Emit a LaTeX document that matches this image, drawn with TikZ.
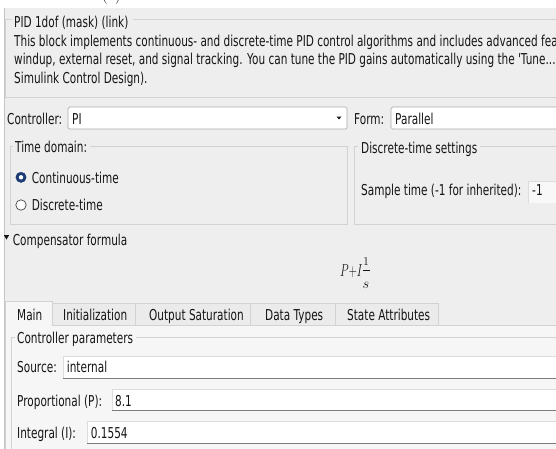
\documentclass[tikz,border=0pt]{standalone}
\usepackage{fontspec}
\usepackage{amsmath}
\newfontfamily\uifont[FakeStretch=0.70]{DejaVu Sans}
\definecolor{dlgbg}{HTML}{EEEEEE}
\definecolor{panelbg}{HTML}{F6F6F6}
\definecolor{tabbg}{HTML}{EBEBEB}
\definecolor{frameln}{HTML}{D2D2D2}
\definecolor{dlgedge}{HTML}{C4C4C4}
\definecolor{uitext}{HTML}{151515}
\definecolor{comboln}{HTML}{ABABAB}
\definecolor{fieldtopln}{HTML}{DCDCDC}
\definecolor{fieldbotln}{HTML}{7C7C7C}
\definecolor{radioblue}{HTML}{1C3A74}
\begin{document}
\begin{tikzpicture}[x=1pt,y=-1pt,
  lbl/.style={font=\uifont\fontsize{15}{17}\selectfont, text=uitext, inner sep=0pt, anchor=base west},
  mathlbl/.style={text=uitext, inner sep=0pt, anchor=base},
  frameline/.style={draw=frameln, line width=0.8pt},
  combo/.style={fill=white, draw=comboln, line width=0.7pt, rounded corners=1.5pt},
  tabshape/.style={fill=tabbg, draw=frameln, line width=0.7pt},
  fieldfill/.style={fill=white},
  fieldtop/.style={draw=fieldtopln, line width=0.7pt},
  fieldbot/.style={draw=fieldbotln, line width=1pt},
]
\useasboundingbox (0,0) rectangle (556,448);
\clip (0,0) rectangle (556,448);
\fill[white] (0,0) rectangle (556,448);
% caption of the figure above, cut by the page edge
\node[font=\fontsize{16}{16}\selectfont, inner sep=0pt, anchor=base west] (cap) at (102,0) {(a)};
% dialog body
\fill[dlgbg] (4.5,8) rectangle (560,450);
\draw[dlgedge, line width=0.8pt] (4.5,8) -- (4.5,450);

% ---- description group
\node[lbl] (title) at (14,27) {PID 1dof (mask) (link)};
\draw[frameline] (12,19) -- (5.5,19) -- (5.5,97) -- (560,97);
\draw[frameline] ([xshift=4pt]title.east |- 0,19) -- (560,19);
\node[lbl] (d1) at (14,46) {This block implements continuous- and discrete-time PID control algorithms and includes advanced fea};
\node[lbl] (d2) at (14,64.5) {windup, external reset, and signal tracking. You can tune the PID gains automatically using the 'Tune...};
\node[lbl] (d3) at (14,83) {Simulink Control Design).};

% ---- controller / form
\node[lbl] (ctrl) at (7,124.5) {Controller:};
\draw[combo] (68,107) rectangle (347,129);
\node[lbl] (ctrlval) at (72,124.5) {PI};
\fill[uitext] (336.5,116.5) -- (341.5,116.5) -- (339,119.5) -- cycle;
\node[lbl] (form) at (354,124.5) {Form:};
\draw[combo] (391,107) rectangle (565,129);
\node[lbl] (formval) at (395,124.5) {Parallel};

% ---- time domain group
\node[lbl] (tdom) at (15,152) {Time domain:};
\draw[frameline] (13,146) -- (10,146) -- (10,224) -- (347,224) -- (347,146) -- ([xshift=3pt]tdom.east |- 0,146);
\draw[draw=radioblue, fill=radioblue] (21,177.3) circle (5.2);
\fill[white] (21,177.3) circle (2.2);
\node[lbl] (cont) at (31.7,183) {Continuous-time};
\draw[draw=uitext!80, fill=white, line width=0.7pt] (21,205) circle (5.2);
\node[lbl] (disc) at (31.7,210.5) {Discrete-time};

% ---- discrete-time settings group
\node[lbl] (dset) at (361,153) {Discrete-time settings};
\draw[frameline] (358,146) -- (354,146) -- (354,224) -- (565,224);
\draw[frameline] ([xshift=3pt]dset.east |- 0,146) -- (565,146);
\fill[white!60!dlgbg] (528,181) rectangle (565,203);
\draw[fieldtop] (528,203) -- (528,181) -- (565,181);
\node[lbl] (stime) at (361,195.5) {Sample time (-1 for inherited):};
\node[lbl] (stval) at (532,195.5) {-1};

% ---- compensator formula
\fill[uitext] (3.8,235) -- (9.2,235) -- (6.5,239.5) -- cycle;
\node[lbl] (comp) at (12.7,245) {Compensator formula};
\node[anchor=base west, inner sep=0pt, text=uitext] (pi) at (340,276.7) {\scalebox{0.65}[1]{\fontsize{17}{17}\selectfont$P{+}I$}};
\node[mathlbl, font=\fontsize{12}{12}\selectfont] (num) at (366,265) {$1$};
\draw[uitext, line width=0.6pt] (363,270) -- (369.5,270);
\node[mathlbl, font=\fontsize{15}{15}\selectfont] (den) at (366,288.3) {$s$};

% ---- tabs
\fill[panelbg] (5.5,325) rectangle (560,450);
\draw[tabshape] (52,303) rectangle (135,325);
\draw[tabshape] (135,303) rectangle (250,325);
\draw[tabshape] (250,303) rectangle (335,325);
\draw[tabshape] (335,303) rectangle (438,325);
\fill[panelbg] (5.5,301.5) rectangle (52,325.5);
\draw[frameline] (5.5,450) -- (5.5,301.5) -- (52,301.5) -- (52,325) -- (560,325);
\node[lbl] (tmain) at (17,320) {Main};
\node[lbl] (tinit) at (63,320) {Initialization};
\node[lbl] (tsat) at (149,320) {Output Saturation};
\node[lbl] (ttype) at (265,320) {Data Types};
\node[lbl] (tstate) at (347,320) {State Attributes};

% ---- controller parameters group
\node[lbl] (cpar) at (17,343) {Controller parameters};
\draw[frameline] (15,337) -- (11,337) -- (11,450);
\draw[frameline] ([xshift=3pt]cpar.east |- 0,337) -- (560,337);

% source field
\fill[fieldfill] (63.3,356.7) rectangle (560,378.3);
\draw[fieldtop] (63.3,378.3) -- (63.3,356.7) -- (560,356.7);
\draw[fieldbot] (63.3,378.3) -- (560,378.3);
\node[lbl] (src) at (17,372.7) {Source:};
\node[lbl] (srcval) at (66.7,372.7) {internal};

% proportional field
\fill[fieldfill] (112.3,389) rectangle (560,410.7);
\draw[fieldtop] (112.3,410.7) -- (112.3,389) -- (560,389);
\draw[fieldbot] (112.3,410.7) -- (560,410.7);
\node[lbl] (prop) at (17,406.5) {Proportional (P):};
\node[lbl] (propval) at (115,406.5) {8.1};

% integral field
\fill[fieldfill] (87.3,421.7) rectangle (560,443.3);
\draw[fieldtop] (87.3,443.3) -- (87.3,421.7) -- (560,421.7);
\draw[fieldbot] (87.3,443.3) -- (560,443.3);
\node[lbl] (intg) at (17,438) {Integral (I):};
\node[lbl] (intgval) at (90.7,438) {0.1554};
\end{tikzpicture}
\end{document}
